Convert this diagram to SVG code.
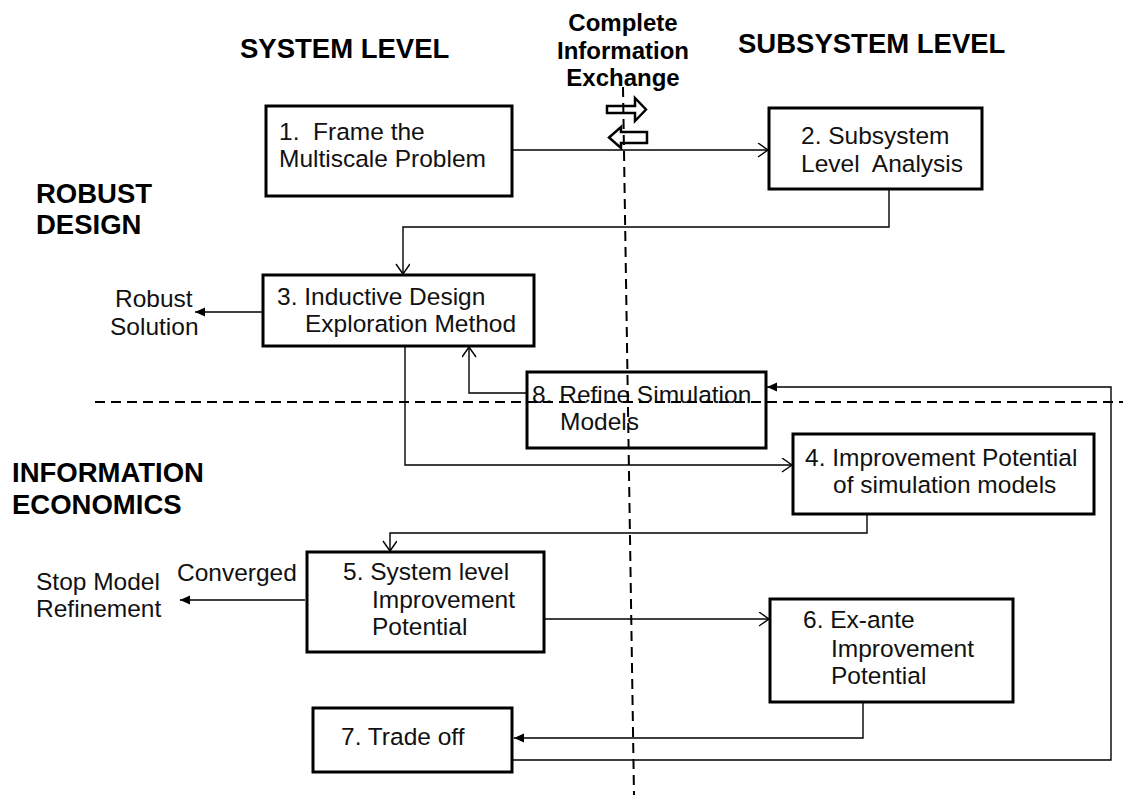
<svg xmlns="http://www.w3.org/2000/svg" width="1123" height="798" viewBox="0 0 1123 798">
  <style>
    .box { fill: #fff; stroke: #000; stroke-width: 3; }
    .t { font-family: "Liberation Sans", Arial, sans-serif; font-size: 24.5px; fill: #111; white-space: pre; }
    .h { font-family: "Liberation Sans", Arial, sans-serif; font-size: 27.5px; font-weight: bold; fill: #000; }
    .hc { font-family: "Liberation Sans", Arial, sans-serif; font-size: 24px; font-weight: bold; fill: #000; text-anchor: middle; }
    .conn { fill: none; stroke: #000; stroke-width: 1.4; }
    .open { marker-end: url(#openArrow); }
    .solid { marker-end: url(#solidArrow); }
    .dash { fill: none; stroke: #000; stroke-width: 2; stroke-dasharray: 10 6; }
    .xarrow { fill: #fff; stroke: #000; stroke-width: 2.5; }
  </style>
  <defs>
    <marker id="openArrow" markerUnits="userSpaceOnUse" markerWidth="14" markerHeight="16" refX="11" refY="7" orient="auto">
      <path d="M1,0 L11,7 L1,14" fill="none" stroke="#000" stroke-width="1.4"/>
    </marker>
    <marker id="solidArrow" markerUnits="userSpaceOnUse" markerWidth="12" markerHeight="10" refX="10" refY="4.5" orient="auto">
      <path d="M0,0 L10,4.5 L0,9 Z" fill="#000"/>
    </marker>
  </defs>

  <!-- headings -->
  <g id="headings">
    <text class="h" x="240" y="58">SYSTEM LEVEL</text>
    <text class="h" x="738" y="53">SUBSYSTEM LEVEL</text>
    <text class="hc" x="623" y="31">Complete</text>
    <text class="hc" x="623" y="59">Information</text>
    <text class="hc" x="623" y="86">Exchange</text>
    <text class="h" x="36" y="203">ROBUST</text>
    <text class="h" x="36" y="234">DESIGN</text>
    <text class="h" x="12" y="482">INFORMATION</text>
    <text class="h" x="12" y="514">ECONOMICS</text>
  </g>

  <!-- exchange symbol -->
  <g id="exchange">
    <path class="xarrow" d="M607,106 H635 V98 L646,109.5 L635,121 V113 H607 Z"/>
    <path class="xarrow" d="M647,132 H621 V127 L609,137.5 L621,148 V143 H647 Z"/>
  </g>

  <!-- connectors -->
  <g id="connectors">
    <path class="conn open" d="M512,150 H768"/>
    <path class="conn open" d="M889,189 V227 H403 V274"/>
    <path class="conn solid" d="M263,312 H195"/>
    <path class="conn open" d="M405,346 V465 H792"/>
    <path class="conn open" d="M527,393 H469 V347"/>
    <path class="conn open" d="M867,514 V533 H390 V551"/>
    <path class="conn solid" d="M305,600 H180"/>
    <path class="conn open" d="M544,619 H769"/>
    <path class="conn solid" d="M863,702 V738 H514"/>
    <path class="conn solid" d="M512,760 H1111 V387 H767"/>
  </g>

  <g id="n1">
    <rect class="box" x="266" y="106" width="246" height="90"/>
    <text class="t" x="279" y="140" xml:space="preserve">1.  Frame the</text>
    <text class="t" x="279" y="167">Multiscale Problem</text>
  </g>
  <g id="n2">
    <rect class="box" x="769" y="108" width="213" height="81"/>
    <text class="t" x="801" y="144">2. Subsystem</text>
    <text class="t" x="801" y="172" xml:space="preserve">Level  Analysis</text>
  </g>
  <g id="n3">
    <rect class="box" x="263" y="275" width="271" height="71"/>
    <text class="t" x="277" y="305">3. Inductive Design</text>
    <text class="t" x="305" y="332">Exploration Method</text>
  </g>
  <g id="robust-solution">
    <text class="t" x="115" y="307">Robust</text>
    <text class="t" x="110" y="335">Solution</text>
  </g>
  <g id="n8">
    <rect class="box" x="527" y="372" width="239" height="76"/>
    <text class="t" x="532" y="403">8. Refine Simulation</text>
    <text class="t" x="560" y="430">Models</text>
  </g>
  <g id="n4">
    <rect class="box" x="793" y="434" width="301" height="80"/>
    <text class="t" x="805" y="466">4. Improvement Potential</text>
    <text class="t" x="833" y="493">of simulation models</text>
  </g>
  <g id="n5">
    <rect class="box" x="307" y="552" width="237" height="100"/>
    <text class="t" x="343" y="580">5. System level</text>
    <text class="t" x="372" y="608">Improvement</text>
    <text class="t" x="372" y="635">Potential</text>
  </g>
  <g id="stop">
    <text class="t" x="177" y="581">Converged</text>
    <text class="t" x="36" y="590">Stop Model</text>
    <text class="t" x="36" y="617">Refinement</text>
  </g>
  <g id="n6">
    <rect class="box" x="770" y="599" width="243" height="103"/>
    <text class="t" x="803" y="628">6. Ex-ante</text>
    <text class="t" x="831" y="657">Improvement</text>
    <text class="t" x="831" y="684">Potential</text>
  </g>
  <g id="n7">
    <rect class="box" x="313" y="708" width="199" height="64"/>
    <text class="t" x="341" y="745">7. Trade off</text>
  </g>

  <!-- boundary lines -->
  <g id="boundaries">
    <path class="dash" d="M623,87 L634,795"/>
    <path class="dash" d="M95,402 H1123"/>
  </g>
</svg>
